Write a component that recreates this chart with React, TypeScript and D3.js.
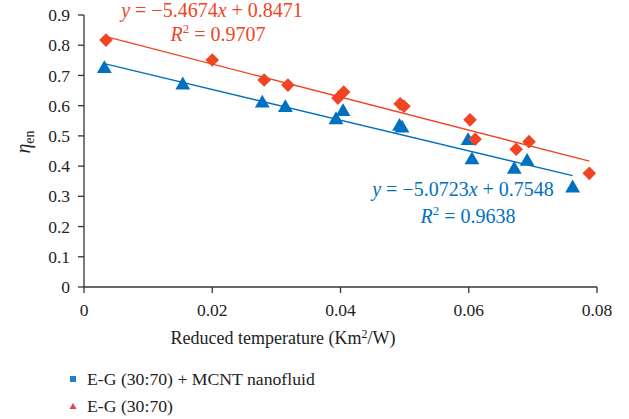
import React from "react";
import * as d3 from "d3";

const redX = [0.00343, 0.0200, 0.0281, 0.0318, 0.0396, 0.0405, 0.0493, 0.0499, 0.0602, 0.0610, 0.0674, 0.0694, 0.0788];
const redY = [0.817, 0.751, 0.685, 0.668, 0.625, 0.645, 0.606, 0.598, 0.553, 0.489, 0.456, 0.481, 0.376];
const blueX = [0.00317, 0.0154, 0.0278, 0.0314, 0.0393, 0.0404, 0.0492, 0.0496, 0.0599, 0.0605, 0.0671, 0.0691, 0.0762];
const blueY = [0.722, 0.668, 0.608, 0.593, 0.553, 0.580, 0.531, 0.525, 0.484, 0.420, 0.389, 0.415, 0.327];
const redFit = { slope: -5.4674, intercept: 0.8471, x0: 0.00343, x1: 0.0788 };
const blueFit = { slope: -5.0723, intercept: 0.7548, x0: 0.00317, x1: 0.0762 };
const xTicks = [0, 0.02, 0.04, 0.06, 0.08];
const yTicks = [0, 0.1, 0.2, 0.3, 0.4, 0.5, 0.6, 0.7, 0.8, 0.9];
const legendLabels = ["E-G (30:70) + MCNT nanofluid", "E-G (30:70)"];

const RED = "#ef4524";
const BLUE = "#0070c0";
const AXIS = "#333";
const F = { fontFamily: "Liberation Serif" };

export default function App() {
  const x = d3.scaleLinear().domain([0, 0.08]).range([84, 597]);
  const y = d3.scaleLinear().domain([0, 0.9]).range([287, 15]);
  const tri = d3.symbol().type(d3.symbolTriangle).size(95)();
  const fmtX = (v: number) => (v === 0 ? "0" : d3.format(".2f")(v));
  const fmtY = (v: number) => (v === 0 ? "0" : d3.format(".1f")(v));
  const fitLine = (f: typeof redFit) =>
    d3.line<number>().x((d) => x(d)).y((d) => y(f.slope * d + f.intercept))([f.x0, f.x1]) || "";
  const dSize = 6.8;
  return (
    <svg width={629} height={419} style={{ position: "absolute", left: 0, top: 0, background: "#fff" }}>
      {/* axes */}
      <line x1={x(0)} x2={x(0)} y1={y(0.9)} y2={y(0)} stroke={AXIS} strokeWidth={1.3} />
      <line x1={x(0)} x2={x(0.08)} y1={y(0)} y2={y(0)} stroke={AXIS} strokeWidth={1.3} />
      {yTicks.map((t) => (
        <g key={"y" + t}>
          <line x1={x(0) - 6} x2={x(0)} y1={y(t)} y2={y(t)} stroke={AXIS} strokeWidth={1.3} />
          <text x={70} y={y(t)} dy="0.35em" textAnchor="end" fontSize={17.5} fill="#222" style={F}>{fmtY(t)}</text>
        </g>
      ))}
      {xTicks.map((t) => (
        <g key={"x" + t}>
          <line x1={x(t)} x2={x(t)} y1={y(0)} y2={y(0) + 6} stroke={AXIS} strokeWidth={1.3} />
          <text x={x(t)} y={316} textAnchor="middle" fontSize={17.5} fill="#222" style={F}>{fmtX(t)}</text>
        </g>
      ))}
      <text x={283} y={344} textAnchor="middle" fontSize={18} fill="#222" style={F}>
        Reduced temperature (Km<tspan dy={-6} fontSize={12}>2</tspan><tspan dy={6}>/W)</tspan>
      </text>
      <text transform="translate(30,142) rotate(-90)" textAnchor="middle" fontSize={20} fill="#222" style={F}>
        <tspan fontStyle="italic">η</tspan><tspan dy={4} fontSize={14}>en</tspan>
      </text>
      {/* fit lines */}
      <path d={fitLine(redFit)} stroke={RED} strokeWidth={1.3} fill="none" />
      <path d={fitLine(blueFit)} stroke={BLUE} strokeWidth={1.3} fill="none" />
      {/* markers */}
      {blueX.map((v, i) => (
        <path key={"b" + i} d={tri} transform={`translate(${x(v)},${y(blueY[i])})`} fill={BLUE} />
      ))}
      {redX.map((v, i) => (
        <path key={"r" + i}
          d={`M0,${-dSize}L${dSize},0L0,${dSize}L${-dSize},0Z`}
          transform={`translate(${x(v)},${y(redY[i])})`} fill={RED} />
      ))}
      {/* equations */}
      <text x={212} y={17} textAnchor="middle" fontSize={20} fill={RED} style={F}>
        <tspan fontStyle="italic">y</tspan> = −5.4674<tspan fontStyle="italic">x</tspan> + 0.8471
      </text>
      <text x={218} y={41} textAnchor="middle" fontSize={20} fill={RED} style={F}>
        <tspan fontStyle="italic">R</tspan><tspan dy={-8} fontSize={13}>2</tspan><tspan dy={8}> = 0.9707</tspan>
      </text>
      <text x={463} y={196} textAnchor="middle" fontSize={20} fill={BLUE} style={F}>
        <tspan fontStyle="italic">y</tspan> = −5.0723<tspan fontStyle="italic">x</tspan> + 0.7548
      </text>
      <text x={468} y={223} textAnchor="middle" fontSize={20} fill={BLUE} style={F}>
        <tspan fontStyle="italic">R</tspan><tspan dy={-8} fontSize={13}>2</tspan><tspan dy={8}> = 0.9638</tspan>
      </text>
      {/* legend */}
      <rect x={70} y={376} width={6} height={6} fill="#2a7fc0" />
      <text x={87} y={385} fontSize={17.7} fill="#222" style={F}>{legendLabels[0]}</text>
      <path d={d3.symbol().type(d3.symbolTriangle).size(22)() || ""} transform="translate(73,407)" fill="#e04848" />
      <text x={87} y={412} fontSize={17.7} fill="#222" style={F}>{legendLabels[1]}</text>
    </svg>
  );
}
